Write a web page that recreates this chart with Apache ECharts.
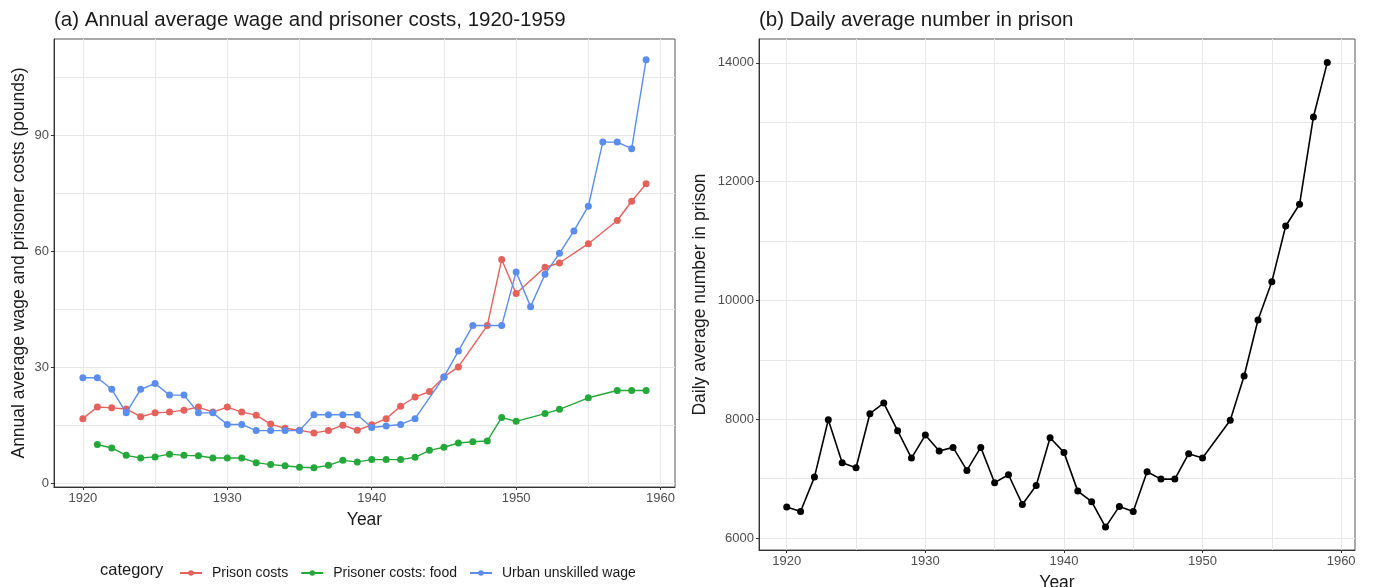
<!DOCTYPE html>
<html>
<head>
<meta charset="utf-8">
<script src="https://cdn.jsdelivr.net/npm/echarts@6/dist/echarts.min.js"></script>
<style>
  html, body { margin: 0; padding: 0; background: #fff; }
  #chart { width: 1375px; height: 587px; }
</style>
</head>
<body>
<div id="chart"></div>
<script>
// ---- Data ----
const years = [1920, 1921, 1922, 1923, 1924, 1925, 1926, 1927, 1928, 1929,
               1930, 1931, 1932, 1933, 1934, 1935, 1936, 1937, 1938, 1939,
               1940, 1941, 1942, 1943, 1944, 1945, 1946, 1947, 1948, 1949,
               1950, 1951, 1952, 1953, 1954, 1955, 1956, 1957, 1958, 1959];

const prisonCosts = [16.7, 19.7, 19.5, 19.2, 17.2, 18.2, 18.4, 18.9, 19.7, 18.4,
                     19.7, 18.4, 17.6, 15.3, 14.2, 13.7, 13.0, 13.6, 15.0, 13.7,
                     15.1, 16.7, 19.9, 22.3, 23.7, 27.5, 30.1, null, 40.8, 57.9,
                     49.1, null, 55.9, 57.0, null, 62.0, null, 68.0, 73.0, 77.5];

const foodCosts = [null, 10.0, 9.1, 7.2, 6.5, 6.8, 7.5, 7.2, 7.1, 6.5,
                   6.5, 6.5, 5.3, 4.8, 4.5, 4.1, 4.0, 4.6, 5.9, 5.5,
                   6.1, 6.1, 6.1, 6.7, 8.5, 9.3, 10.4, 10.7, 10.9, 17.0,
                   16.0, null, 18.0, 19.1, null, 22.1, null, 24.0, 24.0, 24.0];

const urbanWage = [27.3, 27.3, 24.3, 18.2, 24.3, 25.8, 22.8, 22.8, 18.2, 18.2,
                   15.2, 15.2, 13.6, 13.6, 13.6, 13.6, 17.7, 17.7, 17.7, 17.7,
                   14.4, 14.8, 15.2, 16.7, null, 27.5, 34.2, 40.8, null, 40.8,
                   54.7, 45.7, 54.1, 59.5, 65.3, 71.7, 88.3, 88.3, 86.6, 109.6];

const prisonNumber = [6522, 6449, 7027, 7993, 7269, 7185, 8094, 8273, 7808, 7347,
                      7734, 7465, 7527, 7140, 7527, 6933, 7067, 6567, 6887, 7690,
                      7443, 6791, 6613, 6185, 6534, 6449, 7118, 6993, 6993, 7421,
                      7347, null, 7982, 8728, 9671, 10316, 11252, 11618, 13088, 14003];

const xTicks = [1920, 1930, 1940, 1950, 1960];
const yTicksA = [0, 30, 60, 90];
const yTicksB = [6000, 8000, 10000, 12000, 14000];

const seriesNames = ['Prison costs', 'Prisoner costs: food', 'Urban unskilled wage'];
const seriesColors = ['#E5625C', '#25A83A', '#5B8DEE'];

// ---- helpers ----
function pairs(vals) {
  const out = [];
  for (let i = 0; i < years.length; i++) {
    if (vals[i] !== null && vals[i] !== undefined) out.push([years[i], vals[i]]);
  }
  return out;
}
function cycle(len, idx) {
  const arr = [];
  for (let i = 0; i < len; i++) arr.push(i === idx ? '#e8e8e8' : 'rgba(0,0,0,0)');
  return arr;
}

const FONT = 'Liberation Sans, Arial, sans-serif';
const tickLabel = { color: '#4d4d4d', fontSize: 13, fontFamily: FONT, margin: 5, formatter: function (v) { return String(v); } };
const axisTitle = { color: '#1a1a1a', fontSize: 17.5, fontFamily: FONT };

function mainX(grid, min, max) {
  return {
    type: 'value', gridIndex: grid, min: min, max: max, position: 'bottom',
    axisLine: { show: true, onZero: false, lineStyle: { color: '#333', width: 1 } },
    axisTick: { show: true, length: 3, customValues: xTicks, lineStyle: { color: '#333' } },
    axisLabel: Object.assign({ customValues: xTicks }, tickLabel),
    splitLine: { show: false },
    name: 'Year', nameLocation: 'middle', nameGap: 24, nameTextStyle: axisTitle
  };
}
function gridX(grid, min, max) {
  return {
    type: 'value', gridIndex: grid, min: min, max: max, interval: 1, position: 'top',
    axisLine: { show: false }, axisTick: { show: false }, axisLabel: { show: false },
    splitLine: { show: true, lineStyle: { color: cycle(5, 2), width: 1 } }
  };
}

const option = {
  animation: false,
  backgroundColor: '#fff',
  textStyle: { fontFamily: FONT },
  title: [
    { text: '(a) Annual average wage and prisoner costs, 1920-1959', left: 54, top: 10, padding: 0,
      textStyle: { fontSize: 20.5, fontWeight: 'normal', color: '#1a1a1a', fontFamily: FONT } },
    { text: '(b) Daily average number in prison', left: 759, top: 10, padding: 0,
      textStyle: { fontSize: 20.5, fontWeight: 'normal', color: '#1a1a1a', fontFamily: FONT } }
  ],
  graphic: [
    { type: 'text', left: 100, top: 562, style: { text: 'category', fontSize: 16.5, fill: '#1a1a1a', fontFamily: FONT } }
  ],
  legend: {
    data: seriesNames, left: 174, top: 561, itemWidth: 22, itemHeight: 7, itemGap: 12,
    textStyle: { fontSize: 14, color: '#1a1a1a', fontFamily: FONT, padding: [0, 0, 0, 5] }
  },
  grid: [
    { left: 54, top: 39, width: 621, height: 448, show: true, borderColor: '#555', borderWidth: 1,
      backgroundColor: 'rgba(0,0,0,0)', containLabel: false, outerBoundsMode: 'none' },
    { left: 759, top: 39, width: 596, height: 511, show: true, borderColor: '#555', borderWidth: 1,
      backgroundColor: 'rgba(0,0,0,0)', containLabel: false, outerBoundsMode: 'none' }
  ],
  xAxis: [
    mainX(0, 1918, 1961),
    gridX(0, 1918, 1961),
    mainX(1, 1918, 1961),
    gridX(1, 1918, 1961)
  ],
  yAxis: [
    {
      type: 'value', gridIndex: 0, min: -1, max: 115, position: 'left',
      axisLine: { show: true, onZero: false, lineStyle: { color: '#333' } },
      axisTick: { show: true, length: 3, customValues: yTicksA, lineStyle: { color: '#333' } },
      axisLabel: Object.assign({ customValues: yTicksA }, tickLabel),
      splitLine: { show: false },
      name: 'Annual average wage and prisoner costs (pounds)', nameLocation: 'middle', nameGap: 26,
      nameTextStyle: axisTitle
    },
    {
      type: 'value', gridIndex: 0, min: -1, max: 115, interval: 1, position: 'right',
      axisLine: { show: false }, axisTick: { show: false }, axisLabel: { show: false },
      splitLine: { show: true, lineStyle: { color: cycle(15, 1), width: 1 } }
    },
    {
      type: 'value', gridIndex: 1, min: 5800, max: 14400, position: 'left',
      axisLine: { show: true, onZero: false, lineStyle: { color: '#333' } },
      axisTick: { show: true, length: 3, customValues: yTicksB, lineStyle: { color: '#333' } },
      axisLabel: Object.assign({ customValues: yTicksB }, tickLabel),
      splitLine: { show: false },
      name: 'Daily average number in prison', nameLocation: 'middle', nameGap: 50,
      nameTextStyle: axisTitle
    },
    {
      type: 'value', gridIndex: 1, min: 5800, max: 14400, interval: 200, position: 'right',
      axisLine: { show: false }, axisTick: { show: false }, axisLabel: { show: false },
      splitLine: { show: true, lineStyle: { color: cycle(5, 1), width: 1 } }
    }
  ],
  series: [
    { name: seriesNames[0], type: 'line', xAxisIndex: 0, yAxisIndex: 0, data: pairs(prisonCosts),
      symbol: 'circle', symbolSize: 7, color: seriesColors[0], lineStyle: { width: 1.4 }, z: 3 },
    { name: seriesNames[1], type: 'line', xAxisIndex: 0, yAxisIndex: 0, data: pairs(foodCosts),
      symbol: 'circle', symbolSize: 7, color: seriesColors[1], lineStyle: { width: 1.4 }, z: 4 },
    { name: seriesNames[2], type: 'line', xAxisIndex: 0, yAxisIndex: 0, data: pairs(urbanWage),
      symbol: 'circle', symbolSize: 7, color: seriesColors[2], lineStyle: { width: 1.4 }, z: 5 },
    { name: 'Daily average number in prison', type: 'line', xAxisIndex: 2, yAxisIndex: 2, data: pairs(prisonNumber),
      symbol: 'circle', symbolSize: 7, color: '#000', lineStyle: { width: 1.6 }, z: 3 }
  ]
};

const chart = echarts.init(document.getElementById('chart'), null, { renderer: 'canvas' });
chart.setOption(option);
</script>
</body>
</html>
